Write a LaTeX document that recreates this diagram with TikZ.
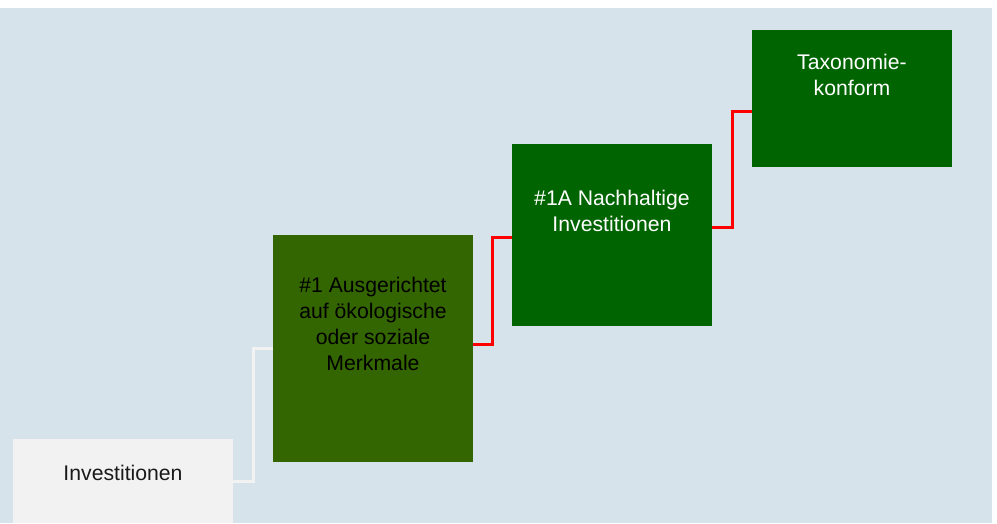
\documentclass[tikz,border=0pt]{standalone}
\usepackage{fontspec}
\setmainfont{Liberation Sans}
\usetikzlibrary{positioning, calc}
\definecolor{bgcolor}{RGB}{214, 227, 234}
\definecolor{invcolor}{RGB}{242, 242, 242}
\definecolor{esgcolor}{RGB}{51, 102, 0}
\definecolor{suscolor}{RGB}{0, 100, 0}
\definecolor{linkred}{RGB}{255, 0, 0}

\tikzset{
    box/.style={inner sep=0pt, outer sep=0pt, minimum width=200pt},
    boxtext/.style={font=\fontsize{21.2}{26}\selectfont, align=center, inner sep=0pt},
    link/.style={line width=3pt},
    elbow/.style={to path={-| ($(\tikztostart)!.5!(\tikztotarget)$) |- (\tikztotarget)}}
}

\begin{document}
\begin{tikzpicture}[x=1pt, y=-1pt]
        % Canvas
        \fill[white] (0, 0) rectangle (997, 523);
        \useasboundingbox (0, 0) rectangle (997, 523);
        \fill[bgcolor] (0, 8) rectangle (992, 523);

        % Boxes
        \node[box, fill=invcolor, minimum width=220pt, minimum height=84pt] (inv) at (123, 481) {};
        \node[box, fill=esgcolor, minimum height=227pt] (esg) at (373, 348.5) {};
        \node[box, fill=suscolor, minimum height=182pt] (sus) at (612, 235) {};
        \node[box, fill=suscolor, minimum height=137pt] (tax) at (852, 98.5) {};

        % Labels
        \node[boxtext, text=black!90] (invlabel) at (123, 473.3) {Investitionen};
        \node[boxtext, text=black] (esglabel) at (373, 324) {\#1 Ausgerichtet\\auf ökologische\\oder soziale\\Merkmale};
        \node[boxtext, text=white] (suslabel) at (612, 211) {\#1A Nachhaltige\\Investitionen};
        \node[boxtext, text=white] (taxlabel) at (852, 74.5) {Taxonomie-\\konform};

        % Connector ends
        \coordinate (esgout) at ([yshift=4.5pt]esg.east);
        \coordinate (susin) at ([yshift=-2pt]sus.west);
        \coordinate (susout) at ([yshift=8pt]sus.east);
        \coordinate (taxin) at ([yshift=-12.5pt]tax.west);

        % Connectors
        \draw[link, invcolor] (inv.east) to[elbow] (esg.west);
        \draw[link, linkred] (esgout) to[elbow] (susin);
        \draw[link, linkred] (susout) to[elbow] (taxin);
    \end{tikzpicture}
\end{document}
